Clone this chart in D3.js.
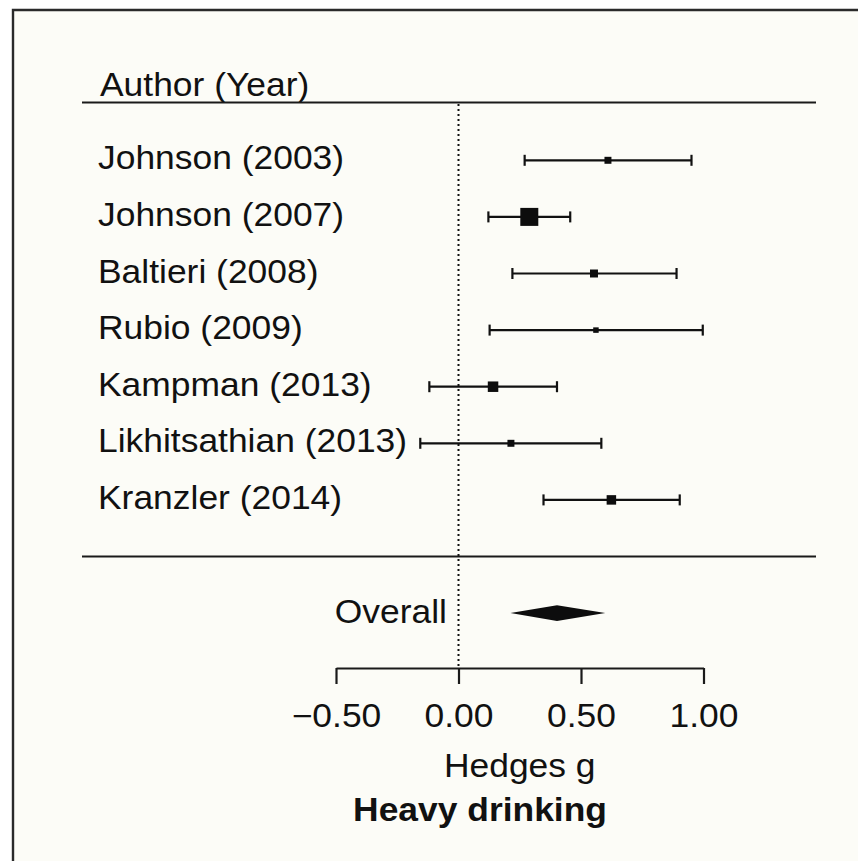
<!DOCTYPE html>
<html>
<head>
<meta charset="utf-8">
<script src="https://cdn.jsdelivr.net/npm/d3@7"></script>
<style>
  html, body { margin: 0; padding: 0; background: #ffffff; }
  svg { display: block; }
  text { font-family: "Liberation Sans", Arial, Helvetica, sans-serif; fill: #111; }
</style>
</head>
<body>
<svg id="chart" width="858" height="861"></svg>
<script>
// Studies, effect sizes (Hedges g) with 95% CI and relative weights (%)
const studies = ["Johnson (2003)", "Johnson (2007)", "Baltieri (2008)", "Rubio (2009)",
                 "Kampman (2013)", "Likhitsathian (2013)", "Kranzler (2014)"];
const effect  = [0.610, 0.289, 0.553, 0.561, 0.141, 0.214, 0.624];
const ciLow   = [0.270, 0.122, 0.220, 0.127, -0.119, -0.156, 0.347];
const ciHigh  = [0.951, 0.456, 0.890, 0.997, 0.402, 0.583, 0.903];
const weights = [6.8, 45.3, 8.9, 4.2, 15.4, 6.8, 12.6];

// Pooled estimate
const overall = { label: "Overall", est: 0.402, low: 0.212, high: 0.599 };

const tickValues = [-0.5, 0, 0.5, 1.0];
const headerLabel = "Author (Year)";
const axisTitle = "Hedges g";
const panelTitle = "Heavy drinking";

const svg = d3.select("#chart");
const W = 858, H = 861;
const STRETCH = 1.09;   // slightly wide lettering
const FS = 32.5;

// panel background and frame (open on right/bottom)
svg.append("rect").attr("x", 13).attr("y", 10).attr("width", W).attr("height", H)
  .attr("fill", "#fcfcf7");
svg.append("path").attr("d", `M13,${H} L13,10 L${W},10`)
  .attr("fill", "none").attr("stroke", "#2a2a2a").attr("stroke-width", 2.4);

const x = d3.scaleLinear().domain([-0.5, 1.0]).range([336, 703.5]);
// row positions: 0..6 studies, 7 separator, 8 overall
const y = d3.scaleLinear().domain([0, 1]).range([160.3, 216.9]);

function label(g, txt, tx, ty, anchor, weight) {
  return g.append("text")
    .attr("transform", `translate(${tx},${ty}) scale(${STRETCH},1)`)
    .attr("text-anchor", anchor || "start")
    .attr("font-size", FS)
    .attr("font-weight", weight || "normal")
    .text(txt);
}

const g = svg.append("g");

// header
label(g, headerLabel, 100, 95.5);
g.append("line").attr("x1", 82).attr("x2", 816).attr("y1", 102.5).attr("y2", 102.5)
  .attr("stroke", "#1a1a1a").attr("stroke-width", 2.2);
// separator above the pooled row
g.append("line").attr("x1", 82).attr("x2", 816).attr("y1", y(7)).attr("y2", y(7))
  .attr("stroke", "#1a1a1a").attr("stroke-width", 2.2);

// null-effect reference line
g.append("line").attr("x1", x(0)).attr("x2", x(0)).attr("y1", 104).attr("y2", 668)
  .attr("stroke", "#111").attr("stroke-width", 2).attr("stroke-dasharray", "2,3");

// study rows
const rows = studies.map((s, i) => ({ s, i, est: effect[i], lo: ciLow[i], hi: ciHigh[i], w: weights[i] }));
const size = d3.scaleSqrt().domain([0, d3.max(weights)]).range([0, 18]);

const rg = g.selectAll("g.row").data(rows).join("g").attr("class", "row");
rg.each(function(d) { label(d3.select(this), d.s, 98, y(d.i) + 9); });
rg.append("line").attr("x1", d => x(d.lo)).attr("x2", d => x(d.hi))
  .attr("y1", d => y(d.i)).attr("y2", d => y(d.i))
  .attr("stroke", "#111").attr("stroke-width", 2.2);
rg.append("line").attr("x1", d => x(d.lo)).attr("x2", d => x(d.lo))
  .attr("y1", d => y(d.i) - 5.5).attr("y2", d => y(d.i) + 5.5)
  .attr("stroke", "#111").attr("stroke-width", 2.2);
rg.append("line").attr("x1", d => x(d.hi)).attr("x2", d => x(d.hi))
  .attr("y1", d => y(d.i) - 5.5).attr("y2", d => y(d.i) + 5.5)
  .attr("stroke", "#111").attr("stroke-width", 2.2);
rg.append("rect")
  .attr("x", d => x(d.est) - size(d.w) / 2).attr("y", d => y(d.i) - size(d.w) / 2)
  .attr("width", d => size(d.w)).attr("height", d => size(d.w))
  .attr("fill", "#0d0d0d");

// pooled diamond
const oy = y(8);
label(g, overall.label, 447, oy + 10, "end");
g.append("path")
  .attr("d", `M${x(overall.low)},${oy} L${x(overall.est)},${oy - 7.8} L${x(overall.high)},${oy} L${x(overall.est)},${oy + 7.8} Z`)
  .attr("fill", "#0d0d0d");

// x axis
const axis = d3.axisBottom(x).tickValues(tickValues).tickSize(16).tickSizeOuter(0)
  .tickFormat(d3.format(".2f"));
const ag = g.append("g").attr("transform", "translate(0,668)").call(axis);
ag.select(".domain").attr("stroke", "#1a1a1a").attr("stroke-width", 2.2);
ag.selectAll(".tick line").attr("stroke", "#1a1a1a").attr("stroke-width", 2.2);
ag.selectAll(".tick text")
  .attr("y", 0).attr("dy", 0)
  .attr("transform", `translate(0,59) scale(${STRETCH},1)`)
  .attr("font-size", FS).attr("font-family", "Liberation Sans, Arial, sans-serif")
  .attr("fill", "#111");

// titles
label(g, axisTitle, (x(-0.5) + x(1)) / 2, 777, "middle");
label(g, panelTitle, 480, 821, "middle", "bold");
</script>
</body>
</html>
